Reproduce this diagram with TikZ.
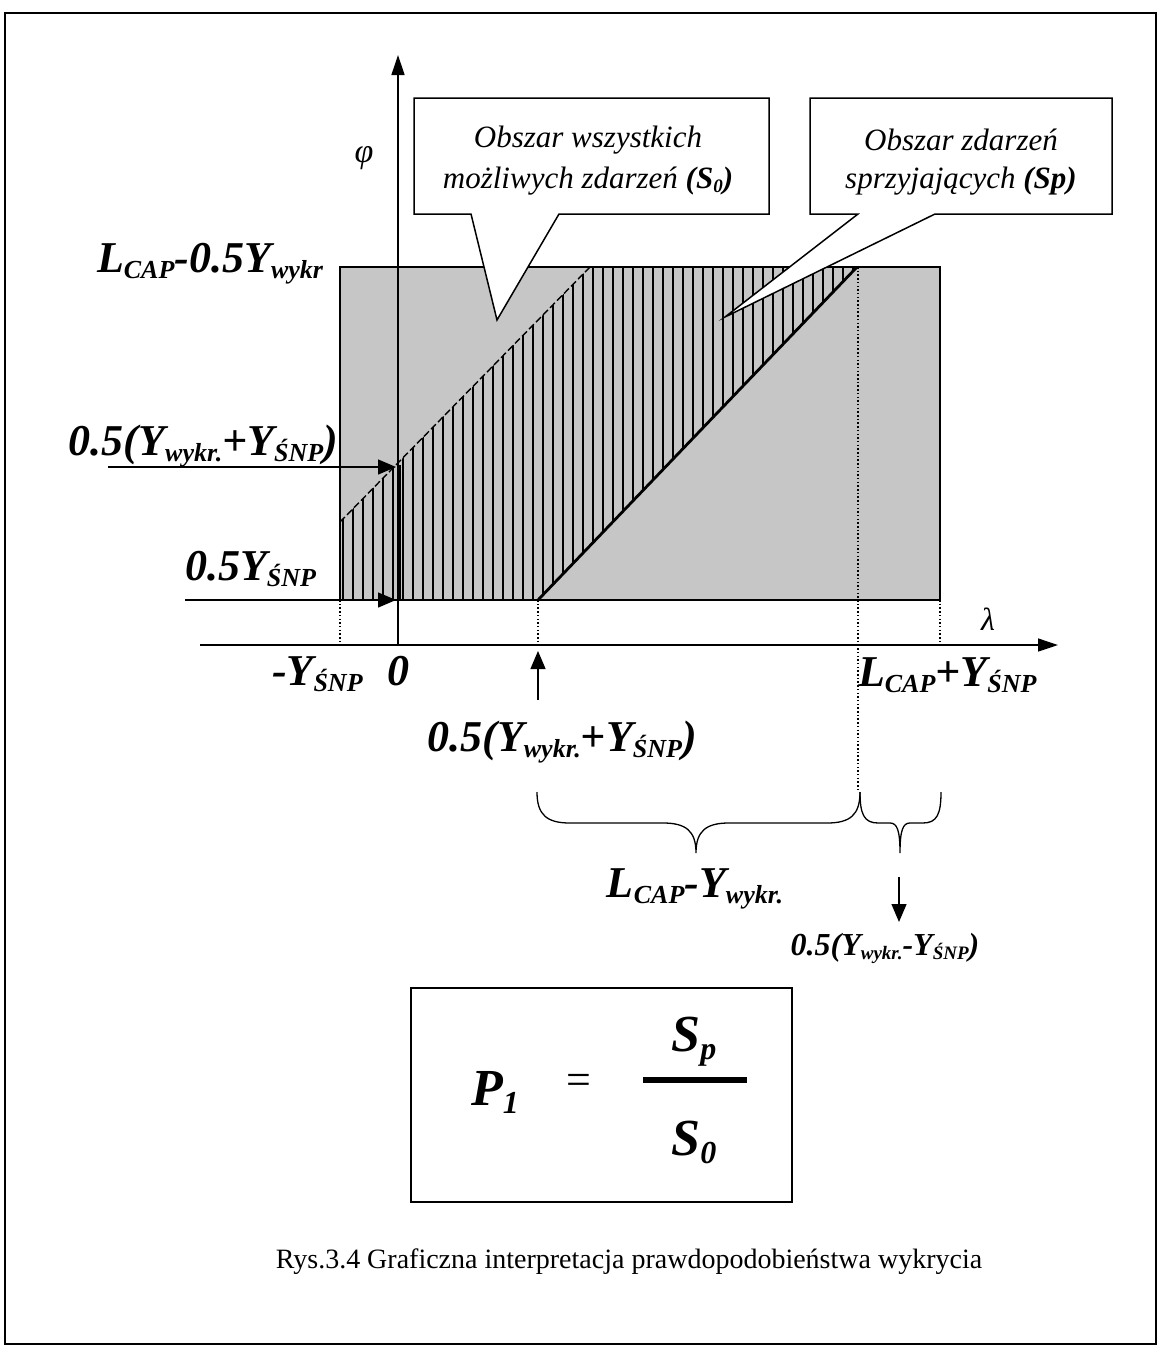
\documentclass[tikz,border=0pt]{standalone}
\usepackage{fontspec}
\setmainfont{Liberation Serif}
\usetikzlibrary{arrows.meta}
\definecolor{gr}{RGB}{198,198,198}
\newcommand\lbl{\fontsize{44}{48}\selectfont\bfseries\itshape}
\newcommand\sbs[1]{\raisebox{-6pt}{\fontsize{26}{26}\selectfont #1}}
\newcommand\sml{\fontsize{32}{34}\selectfont\bfseries\itshape}
\newcommand\sbss[1]{\raisebox{-4pt}{\fontsize{19}{19}\selectfont #1}}
\newcommand\fml{\fontsize{52}{56}\selectfont\bfseries\itshape}
\newcommand\sbf[1]{\raisebox{-8pt}{\fontsize{32}{32}\selectfont #1}}
\newcommand\callfont{\fontsize{31}{34}\selectfont\itshape}
\newcommand\calsub[1]{\raisebox{-4pt}{\fontsize{19}{19}\selectfont #1}}
\tikzset{
  ax/.style={line width=1.3pt,-{Triangle[length=20pt,width=13pt]}},
  arr/.style={line width=1.3pt,-{Triangle[length=18pt,width=15pt]}},
  dotv/.style={line width=1.3pt,dash pattern=on 1.5pt off 2.2pt},
  callout/.style={draw,fill=white,line width=1.5pt,line join=miter},
  hatchl/.style={line width=2.6pt},
  bracel/.style={line width=1.3pt},
  lab/.style={inner sep=0pt,outer sep=0pt}
}
\begin{document}
\begin{tikzpicture}[x=1pt,y=-1pt]
\useasboundingbox (0,0) rectangle (1161,1349);
\draw[line width=1.5pt] (5,13) rectangle (1156,1344);
% region of all events
\coordinate (R1) at (340,267);
\coordinate (R2) at (940,600);
\fill[gr] (R1) rectangle (R2);
\begin{scope}
  \clip (340,522) -- (590,267) -- (857,267) -- (538,600) -- (340,600) -- cycle;
  \foreach \x in {343,353,...,863} \draw[hatchl] (\x,260) -- (\x,610);
\end{scope}
\coordinate (D1) at (340,522);
\coordinate (D2) at (590,267);
\coordinate (E1) at (538,600);
\coordinate (E2) at (857,267);
\draw[line width=1.4pt,dash pattern=on 7pt off 3pt] (D1) -- (D2);
\draw[line width=2.8pt] (E1) -- (E2);
\draw[line width=1.5pt] (R1) rectangle (R2);
% dotted guides
\coordinate (g1a) at (340,600); \coordinate (g1b) at (340,645);
\coordinate (g2a) at (538,600); \coordinate (g2b) at (538,645);
\coordinate (g3a) at (858,267); \coordinate (g3b) at (858,792);
\coordinate (g4a) at (940,600); \coordinate (g4b) at (940,645);
\draw[dotv] (g1a) -- (g1b);
\draw[dotv] (g2a) -- (g2b);
\draw[dotv] (g3a) -- (g3b);
\draw[dotv] (g4a) -- (g4b);
% axes
\coordinate (O) at (398,645);
\coordinate (xs) at (200,645);
\coordinate (xe) at (1058,645);
\coordinate (ye) at (398,55);
\draw[ax] (xs) -- (xe);
\draw[ax] (O) -- (ye);
\coordinate (b1) at (399,465);
\coordinate (b2) at (399,600);
\draw[line width=3pt] (b1) -- (b2);
\node (phi) at (364,158) {\fontsize{34}{34}\selectfont\itshape φ};
\node (lam) at (988,619) {\fontsize{32}{32}\selectfont\itshape λ};
% left labels with arrows
\node[lab,anchor=base east] (lt) at (323,272) {\lbl L\sbs{CAP}-0.5Y\sbs{wykr}};
\node[lab,anchor=base east] (lm) at (338,455) {\lbl 0.5(Y\sbs{wykr.}+Y\sbs{ŚNP})};
\node[lab,anchor=base west] (lb) at (185,580) {\lbl 0.5Y\sbs{ŚNP}};
\coordinate (am1) at (108,467); \coordinate (am2) at (396,467);
\coordinate (ab1) at (185,600); \coordinate (ab2) at (396,600);
\draw[arr] (am1) -- (am2);
\draw[arr] (ab1) -- (ab2);
% bottom labels
\node[lab,anchor=base west] (mY) at (272,685) {\lbl -Y\sbs{ŚNP}};
\node[lab,anchor=base] (zero) at (398,685) {\lbl 0};
\node[lab,anchor=base west] (LY) at (858,686) {\lbl L\sbs{CAP}+Y\sbs{ŚNP}};
\coordinate (ua1) at (538,700); \coordinate (ua2) at (538,651);
\draw[arr] (ua1) -- (ua2);
\node[lab,anchor=base] (half) at (562,751) {\lbl 0.5(Y\sbs{wykr.}+Y\sbs{ŚNP})};
% braces
\draw[bracel] (537,792) .. controls (537,815) and (547,823) .. (570,823) -- (663,823)
  .. controls (686,823) and (696,831) .. (696,853)
  .. controls (696,831) and (706,823) .. (729,823) -- (827,823)
  .. controls (850,823) and (860,815) .. (860,792);
\draw[bracel] (860,792) .. controls (860,814) and (864,823) .. (878,823) -- (890,823)
  .. controls (897,823) and (900,830) .. (900,853)
  .. controls (900,830) and (903,823) .. (910,823) -- (923,823)
  .. controls (937,823) and (941,814) .. (941,792);
\node[lab,anchor=base] (LmY) at (695,897) {\lbl L\sbs{CAP}-Y\sbs{wykr.}};
\coordinate (da1) at (899,877); \coordinate (da2) at (899,922);
\draw[arr] (da1) -- (da2);
\node[lab,anchor=base] (diff) at (885,955) {\sml 0.5(Y\sbss{wykr.}-Y\sbss{ŚNP})};
% callouts
\draw[callout] (414,98) -- (769,98) -- (769,214) -- (559,214) -- (497,320) -- (471,214) -- (414,214) -- cycle;
\draw[callout] (810,98) -- (1112,98) -- (1112,214) -- (935,214) -- (725,317) -- (858,214) -- (810,214) -- cycle;
\node (c1a) at (588,140) {\callfont Obszar wszystkich};
\node (c1b) at (588,181) {\callfont możliwych zdarzeń {\bfseries (S\calsub{0})}};
\node (c2a) at (961,140) {\callfont Obszar zdarzeń};
\node (c2b) at (961,181) {\callfont sprzyjających {\bfseries (Sp)}};
% formula
\draw[line width=1.5pt] (411,988) rectangle (792,1202);
\node (P) at (495,1092) {\fml P\sbf{1}};
\node (eq) at (579,1084) {\fontsize{44}{44}\selectfont =};
\coordinate (f1) at (643,1080); \coordinate (f2) at (747,1080);
\draw[line width=6pt] (f1) -- (f2);
\node (Sp) at (694,1042) {\fml S\sbf{p}};
\node (S0) at (694,1142) {\fml S\sbf{0}};
\node (cap) at (629,1262) {\fontsize{28}{30}\selectfont Rys.3.4 Graficzna interpretacja prawdopodobieństwa wykrycia};
\end{tikzpicture}
\end{document}
